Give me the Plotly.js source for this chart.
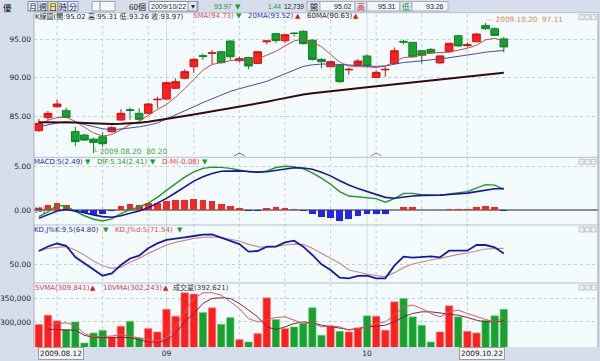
<!DOCTYPE html>
<html><head><meta charset="utf-8">
<script src="https://cdn.plot.ly/plotly-3.0.1.min.js"></script>
<style>html,body{margin:0;padding:0;background:#d6deec;}#chart{width:600px;height:361px;}</style>
</head><body><div id="chart"></div>
<script>
// ---------- data ----------
const dates = ["2009-08-12","2009-08-13","2009-08-14","2009-08-17","2009-08-18","2009-08-19","2009-08-20","2009-08-21","2009-08-24","2009-08-25","2009-08-26","2009-08-27","2009-08-28","2009-08-31",
"2009-09-01","2009-09-02","2009-09-03","2009-09-04","2009-09-07","2009-09-08","2009-09-09","2009-09-10","2009-09-11","2009-09-14","2009-09-15","2009-09-16","2009-09-17","2009-09-18","2009-09-21","2009-09-22","2009-09-23","2009-09-24","2009-09-25","2009-09-28","2009-09-29","2009-09-30",
"2009-10-01","2009-10-02","2009-10-05","2009-10-06","2009-10-07","2009-10-08","2009-10-09","2009-10-12","2009-10-13","2009-10-14","2009-10-15","2009-10-16","2009-10-19","2009-10-20","2009-10-21","2009-10-22"];
const openP  = [83.1,84.8,86.2,85.7,82.97,82.53,82.0,82.3,82.97,84.48,85.8,85.35,85.35,87.12,87.2,88.6,89.9,91.4,92.84,93.15,93.35,94.74,92.2,92.6,91.84,94.65,95.7,94.78,95.78,96.0,94.85,92.36,91.4,91.6,91.0,91.6,92.8,90.0,91.0,91.84,94.7,94.57,93.48,93.66,91.9,93.35,95.43,94.15,94.65,96.77,96.34,95.02];
const highP  = [84.6,85.65,87.1,86.1,83.6,82.66,82.2,82.9,83.7,85.87,86.1,86.0,86.73,87.5,89.46,89.9,91.06,92.5,93.1,93.6,93.4,94.8,92.7,92.7,93.4,94.85,95.8,95.6,95.85,96.1,95.0,92.5,92.2,91.7,91.3,92.4,93.0,90.9,91.4,93.9,94.9,94.6,93.6,93.8,92.9,94.5,95.5,94.6,95.8,97.11,96.5,95.31];
const lowP   = [82.95,84.5,86.1,84.7,81.1,81.75,80.2,81.0,82.84,84.4,84.5,84.4,85.26,86.0,87.08,88.5,89.76,90.6,92.3,91.7,91.8,92.3,92.0,91.1,91.8,94.3,94.5,94.5,95.3,94.3,92.2,91.2,91.3,89.3,90.35,91.5,91.3,89.9,90.1,91.8,94.3,92.6,91.8,93.1,91.8,93.3,94.0,93.9,94.6,96.2,95.4,93.26];
const closeP = [84.05,85.35,86.56,84.83,81.67,81.88,81.58,81.4,83.48,85.35,85.75,84.57,86.56,87.17,89.33,89.46,90.76,92.36,92.75,93.2,91.93,92.7,92.45,91.5,93.35,94.75,94.8,95.56,95.72,94.4,92.36,92.06,92.06,89.46,91.06,92.14,91.5,90.67,91.06,93.48,94.6,92.7,92.9,93.2,92.8,94.44,94.1,94.25,95.65,96.34,95.48,93.97];
const ma5  = [83.8,84.45,84.8,84.85,84.3,83.5,82.8,82.4,82.6,83.2,83.9,84.3,85.1,85.85,86.5,87.45,88.55,89.75,90.95,91.7,92.0,92.2,92.3,92.2,92.4,92.85,93.4,94.1,94.75,95.0,94.6,94.0,93.0,92.0,91.5,91.4,91.4,91.3,91.5,92.0,92.6,92.7,92.9,93.2,93.25,93.3,93.55,93.8,94.2,94.9,95.1,94.73];
const ma20 = [83.6,83.85,84.1,84.25,84.15,83.9,83.6,83.35,83.2,83.3,83.45,83.6,83.8,84.1,84.6,85.1,85.6,86.2,86.75,87.25,87.75,88.2,88.55,88.85,89.1,89.5,90.0,90.5,91.05,91.45,91.65,91.75,91.75,91.7,91.6,91.55,91.5,91.45,91.5,91.75,91.95,92.05,92.2,92.3,92.4,92.55,92.75,92.9,93.1,93.3,93.45,93.52];
const ma60 = [84.2,84.2,84.2,84.2,84.15,84.1,84.05,84.0,83.97,84.0,84.05,84.12,84.25,84.42,84.6,84.8,85.0,85.2,85.4,85.6,85.8,86.0,86.2,86.4,86.6,86.85,87.1,87.35,87.6,87.8,87.95,88.1,88.25,88.38,88.5,88.62,88.75,88.88,89.0,89.13,89.27,89.4,89.53,89.66,89.78,89.9,90.02,90.14,90.26,90.39,90.51,90.63];
const difLine  = [-0.7,-0.15,0.6,0.5,-0.1,-0.6,-1.0,-1.2,-0.95,-0.35,0.1,0.4,0.85,1.5,2.3,3.05,3.8,4.4,4.8,4.95,4.92,4.8,4.6,4.42,4.35,4.5,4.9,5.05,5.0,4.75,4.3,3.7,3.0,2.15,1.65,1.55,1.5,1.35,0.95,1.35,1.95,1.95,1.8,1.75,1.72,1.9,2.05,2.15,2.55,2.95,2.9,2.41];
const macdLine = [-0.9,-0.5,-0.05,0.12,-0.05,-0.25,-0.5,-0.7,-0.78,-0.6,-0.32,-0.06,0.3,0.8,1.38,2.02,2.7,3.35,3.85,4.22,4.48,4.52,4.52,4.45,4.38,4.42,4.6,4.78,4.88,4.85,4.7,4.35,3.95,3.4,2.9,2.5,2.15,1.85,1.5,1.4,1.55,1.65,1.72,1.72,1.75,1.82,1.9,1.98,2.15,2.35,2.48,2.49];
const oscBar   = [0.25,0.6,0.9,0.6,-0.08,-0.28,-0.5,-0.42,-0.1,0.5,0.7,0.62,0.8,0.88,1.05,1.18,1.25,1.3,1.25,1.08,0.7,0.55,0.32,-0.08,-0.05,0.3,0.35,0.33,0.22,-0.05,-0.35,-0.7,-0.9,-1.18,-0.98,-0.65,-0.42,-0.45,-0.42,0.0,0.42,0.35,0.06,0.05,0.0,0.15,0.15,0.17,0.38,0.52,0.42,-0.08];
const kLine = [68,74,78,75,60,51.6,44,35.1,38.2,49.3,58,61.8,71.6,78.2,82.7,84,86.2,88,89.8,90.2,86.2,81.3,77.3,67.1,68,73.8,73.8,79.6,81.8,73.8,62.7,50.2,42.7,32.4,31.6,34.7,35.1,31.6,31.6,48.4,60.4,59.1,59.6,60.9,59.6,68.4,68.4,68.4,76,76,72.9,64.8];
const dLine = [68,71.6,72.9,73.8,69.3,62.7,54.7,48.4,44.9,46.2,52.9,58.2,64.9,70.7,76,79.6,82.7,84.9,86.2,86.7,85.8,83.6,81.3,76.9,73.8,72.9,73.8,76,77.3,76.9,71.6,64.9,58.2,51.6,42.7,39.6,37.3,35.1,33.8,39.1,45.8,50.7,53.8,56,58.2,60.9,63.6,65.3,68,70.7,71.2,71.54];
const volume = [294400,314300,302200,283700,300000,255200,276600,282300,268000,290800,301500,265900,285800,278700,327100,312200,362000,359200,320000,329900,295100,309300,262300,257300,275100,351300,305100,285800,289400,296500,330000,271600,291500,280100,278700,287300,312900,312200,282300,342800,349900,310800,292900,257300,278700,334300,310800,280100,276600,303600,312900,327100];
const vma5  = [null,289400,296500,298000,293000,275000,268000,269400,270000,273000,269400,264500,261000,258800,266600,289400,321400,350000,362000,362000,357000,342800,328500,307000,300000,305000,309300,310800,303600,296500,298000,289400,291500,289400,282300,285800,289400,296500,300000,314300,332100,335700,328500,317900,310800,321400,325000,317900,310800,305100,300000,309841];
const vma10 = [null,284400,284000,284000,282300,271600,266600,266600,266600,266600,266600,262300,257300,256600,260900,275100,300000,317800,339200,349900,351300,349900,339200,325000,310800,289400,283700,289400,296500,300000,298000,293000,289400,285800,283700,285800,289400,290800,293000,300000,310800,317900,321400,321400,319300,317900,314300,309300,303600,300000,300000,302243];
const eventIdx = [22, 37];
const eventColors = ["#6272a4", "#d27a7a"];
// text labels shown in the original
const priceTicks = [85, 90, 95];
const macdTicks = [0, 5];
const kdTicks = [50];
const volTicks = [300000, 350000];
const volLegend = ["5VMA(309,841)", "10VMA(302,243)", "成交量(392,621)"];
const quoteChange = "1.44";
const quoteVolume = "12,739";
const barCount = "60";

// ---------- helpers ----------
const FONT = "DejaVu Sans, Noto Sans CJK TC, sans-serif";
const NARROW = "Liberation Sans, Arial, sans-serif";
const CJK = "Noto Sans CJK TC, DejaVu Sans, sans-serif";
const N = dates.length;
const xs = dates.map((d, i) => i);
const X = px => (px - 34) / 564;
const Y = py => (347 - py) / 335;
const f2 = v => v.toFixed(2);
const dot = d => d.replace(/-/g, ".");
const UP = "#ff1f1f", UPL = "#d41010", DN = "#17a22f", DNL = "#0c8420";
const isUp = closeP.map((c, i) => c >= openP[i]);

const fridays = xs.filter(i => new Date(dates[i] + "T00:00:00Z").getUTCDay() === 5);
const monthStarts = xs.filter(i => i > 0 && dates[i].slice(5, 7) !== dates[i - 1].slice(5, 7));

// ---------- traces ----------
const traces = [
  {type: "candlestick", x: xs, open: openP, high: highP, low: lowP, close: closeP, xaxis: "x", yaxis: "y",
   increasing: {line: {color: UPL, width: 1}, fillcolor: UP}, decreasing: {line: {color: DNL, width: 1}, fillcolor: DN},
   whiskerwidth: 0, hoverinfo: "skip"},
  {type: "scatter", mode: "lines", x: xs, y: ma5, yaxis: "y", line: {color: "#c84a4a", width: 1}},
  {type: "scatter", mode: "lines", x: xs, y: ma20, yaxis: "y", line: {color: "#4a4aaa", width: 1}},
  {type: "scatter", mode: "lines", x: xs, y: ma60, yaxis: "y", line: {color: "#3a0808", width: 2}},
  {type: "bar", x: xs, y: oscBar, yaxis: "y2", width: 0.74, marker: {color: oscBar.map(v => v >= 0 ? "#f02828" : "#2424e8")}},
  {type: "scatter", mode: "lines", x: xs, y: difLine, yaxis: "y2", line: {color: "#1f9a1f", width: 1.4}},
  {type: "scatter", mode: "lines", x: xs, y: macdLine, yaxis: "y2", line: {color: "#1616a2", width: 1.6}},
  {type: "scatter", mode: "lines", x: xs, y: dLine, yaxis: "y3", line: {color: "#cf8d82", width: 1.2}},
  {type: "scatter", mode: "lines", x: xs, y: kLine, yaxis: "y3", line: {color: "#1a1aa8", width: 1.8}},
  {type: "bar", x: xs, y: volume, yaxis: "y4", width: 0.82,
   marker: {color: isUp.map(u => u ? UP : DN), line: {color: isUp.map(u => u ? "#ff8a8a" : "#7fd08f"), width: 0.6}}},
  {type: "scatter", mode: "lines", x: xs, y: vma10, yaxis: "y4", line: {color: "#7a2a3a", width: 1}},
  {type: "scatter", mode: "lines", x: xs, y: vma5, yaxis: "y4", line: {color: "#d8586a", width: 1}}
];
traces.forEach(t => { if (!t.hoverinfo) t.hoverinfo = "skip"; if (!t.xaxis) t.xaxis = "x"; });

// ---------- shapes ----------
const shapes = [];
const D = {price: [0.5663, 0.9979], macd: [0.3642, 0.5663], kd: [0.191, 0.3642], vol: [0, 0.191]};
fridays.forEach(i => shapes.push({type: "line", xref: "x", yref: "paper", x0: i, x1: i, y0: 0, y1: D.price[1],
  line: {color: "#c3ccd8", width: 1, dash: "dot"}, layer: "below"}));
monthStarts.forEach(i => shapes.push({type: "line", xref: "x", yref: "paper", x0: i, x1: i, y0: 0, y1: D.price[1],
  line: {color: "#d3dae4", width: 1}, layer: "below"}));
// panel frame and separators
[D.price[1], D.price[0], D.macd[0], D.kd[0]].forEach(y => shapes.push({type: "line", xref: "paper", yref: "paper",
  x0: 0, x1: 1, y0: y, y1: y, line: {color: "#b6bfcc", width: 1}}));
shapes.push({type: "line", xref: "paper", yref: "paper", x0: 1, x1: 1, y0: 0, y1: D.price[1], line: {color: "#9aa3b4", width: 1}});
shapes.push({type: "line", xref: "paper", yref: "paper", x0: 0, x1: 0, y0: 0, y1: D.price[1], line: {color: "#aab3c4", width: 1}});
// panel corner icons
[12.7, 157.3, 225, 283].forEach(top => {
  for (let k = 0; k < 3; k++) {
    shapes.push({type: "rect", xref: "paper", yref: "paper", x0: X(579 + k * 6), x1: X(584 + k * 6), y0: Y(top + 7), y1: Y(top + 2),
      fillcolor: "#eceef2", line: {color: "#b4b8c0", width: 0.8}});
  }
});
// event carets
eventIdx.forEach((i, k) => shapes.push({type: "path", xref: "x", yref: "paper",
  path: `M ${i - 0.6},${Y(156)} L ${i},${Y(153)} L ${i + 0.6},${Y(156)}`, line: {color: eventColors[k], width: 1}}));
// toolbar cells
const cell = (x0, x1, fill, line) => shapes.push({type: "rect", xref: "paper", yref: "paper", x0: X(x0), x1: X(x1),
  y0: Y(11), y1: Y(1.5), fillcolor: fill, line: {color: line, width: 1}});
["月", "週", "日", "時", "分"].forEach((c, k) => cell(28 + k * 10, 38 + k * 10, c === "日" ? "#f3e68a" : "#e7edf7", "#7d8db0"));
cell(92, 100, "#f7f8fb", "#9aa3b4");
cell(100, 115, "#f7f8fb", "#9aa3b4");
cell(149, 198, "#ffffff", "#7f8fa8");
cell(188, 197, "#e3e7ee", "#8b96aa");
cell(307, 320, "#dfe6f1", "#a6afc0");
cell(320, 355, "#f4f6fa", "#a6afc0");
cell(355, 367, "#dfe6f1", "#a6afc0");
cell(367, 400, "#f4f6fa", "#a6afc0");
cell(400, 412, "#dfe6f1", "#a6afc0");
cell(412, 448, "#f4f6fa", "#a6afc0");

// ---------- annotations ----------
const ann = [];
const txt = (t, xpx, ypx, color, size, xanchor, fam) => ann.push({xref: "paper", yref: "paper", x: X(xpx), y: Y(ypx), text: t,
  showarrow: false, xanchor: xanchor || "left", yanchor: "middle", font: {size: size || 7, color: color, family: fam || FONT}, borderpad: 0});
const last = N - 1;
// toolbar
txt("優", 13, 6.5, "#222", 8.5, "right", CJK);
["月", "週", "日", "時", "分"].forEach((c, k) => txt(c, 33 + k * 10, 6.5, "#1a1a4a", 8, "center", CJK));
txt(barCount + "個", 147, 6.5, "#222", 8, "right", CJK);
txt(dates[last].replace(/-/g, "/"), 150, 6.5, "#222", 7, "left", NARROW);
txt("▾", 192.5, 6.5, "#333", 8, "center");
txt(f2(closeP[last]), 233, 6.5, "#119a2c", 7, "right", NARROW);
txt("▼", 234, 6.5, "#119a2c", 7);
txt(quoteChange, 282, 6.5, "#119a2c", 6.6, "right", NARROW);
txt(quoteVolume, 305, 6.5, "#222", 6.5, "right", NARROW);
txt("開", 313.5, 6.5, "#222", 8, "center", CJK);
txt(f2(openP[last]), 353, 6.5, "#222", 7, "right", NARROW);
txt("高", 361, 6.5, "#e01818", 8, "center", CJK);
txt(f2(highP[last]), 397, 6.5, "#222", 7, "right", NARROW);
txt("低", 406, 6.5, "#119a2c", 8, "center", CJK);
txt(f2(lowP[last]), 445, 6.5, "#222", 7, "right", NARROW);
// price legend
txt(`K線圖(開:${f2(openP[last])} 高:${f2(highP[last])} 低:${f2(lowP[last])} 收:${f2(closeP[last])})`, 34, 16.5, "#2a2a2a", 7, "left", FONT);
txt(`5MA(${f2(ma5[last])})`, 192, 16.5, "#e2485a", 7);
txt("▼", 235, 16.5, "#14a02c", 7);
txt(`20MA(${f2(ma20[last])})`, 247, 16.5, "#2f2fb0", 7);
txt("▲", 294, 16.5, "#e01818", 7);
txt(`60MA(${f2(ma60[last])})`, 306, 16.5, "#3a1a1a", 7);
txt("▲", 352, 16.5, "#e01818", 7);
// macd legend
txt(`MACD:5(${f2(macdLine[last])})`, 33, 162, "#2a2aa8", 7);
txt("▼", 84, 162, "#14a02c", 7);
txt(`DIF:5,34(${f2(difLine[last])})`, 96, 162, "#1f9a1f", 7);
txt("▼", 149, 162, "#14a02c", 7);
txt(`D-M(${f2(oscBar[last])})`, 161, 162, "#e03a3a", 7);
txt("▼", 201, 162, "#14a02c", 7);
txt("[0]", 34, 210, "#444", 7);
// kd legend
txt(`KD,J%K:9,5(${f2(kLine[last])})`, 33, 230, "#2a2aa8", 7);
txt("▼", 102, 230, "#14a02c", 7);
txt(`KD,J%d:5(${f2(dLine[last])})`, 114, 230, "#e04a4a", 7);
txt("▼", 176, 230, "#14a02c", 7);
// volume legend
txt(volLegend[0], 34, 287.5, "#e03a4a", 7);
txt("▲", 89, 287.5, "#e01818", 7);
txt(volLegend[1], 102, 287.5, "#d0384e", 7);
txt("▲", 162, 287.5, "#e01818", 7);
txt(volLegend[2], 172, 287.5, "#333", 7, "left", FONT);
// low / high markers
const lowIdx = lowP.indexOf(Math.min(...lowP));
const highIdx = highP.indexOf(Math.max(...highP));
ann.push({xref: "x", yref: "y", x: lowIdx, y: lowP[lowIdx], text: `└ ${dot(dates[lowIdx])}  ${f2(lowP[lowIdx])}`, showarrow: false,
  xanchor: "left", yanchor: "middle", xshift: -3, yshift: 1, font: {size: 7.3, color: "#45a845", family: FONT}});
ann.push({xref: "x", yref: "y", x: highIdx, y: highP[highIdx], text: `— ${dot(dates[highIdx])}  ${f2(highP[highIdx])}`, showarrow: false,
  xanchor: "left", yanchor: "middle", xshift: -2, yshift: 3, font: {size: 7.3, color: "#e0884a", family: FONT}});
// boxed date labels on the time axis
ann.push({xref: "x", yref: "paper", x: 0, y: Y(353.5), text: dot(dates[0]), showarrow: false, xanchor: "left", yanchor: "middle",
  xshift: -1, bgcolor: "#f4f4f4", bordercolor: "#9c9c9c", borderwidth: 1, borderpad: 1, font: {size: 7.3, color: "#222", family: FONT}});
ann.push({xref: "x", yref: "paper", x: last, y: Y(353.5), text: dot(dates[last]), showarrow: false, xanchor: "right", yanchor: "middle",
  xshift: 1, bgcolor: "#f4f4f4", bordercolor: "#9c9c9c", borderwidth: 1, borderpad: 1, font: {size: 7.3, color: "#222", family: FONT}});

// ---------- layout ----------
const yBase = {anchor: "x", ticks: "", showline: false, zeroline: false, showgrid: true, gridcolor: "#c5ced9", griddash: "dot",
  gridwidth: 1, tickfont: {size: 7.5, color: "#1e1e1e", family: FONT}, fixedrange: true, ticklabelstandoff: 2};
const layout = {
  width: 600, height: 361, margin: {l: 34, r: 2, t: 12, b: 14},
  paper_bgcolor: "#d6deec", plot_bgcolor: "#f4fbfd", showlegend: false, boxgap: 0.16, boxgroupgap: 0, bargap: 0,
  font: {family: FONT, size: 7.5, color: "#1e1e1e"},
  xaxis: {domain: [0, 1], range: [-0.53, 61.33], anchor: "y4", rangeslider: {visible: false}, showgrid: false, zeroline: false,
    ticks: "", tickvals: monthStarts, ticktext: monthStarts.map(i => dates[i].slice(5, 7)),
    tickfont: {size: 7.5, color: "#1e1e1e", family: FONT}, fixedrange: true},
  yaxis: Object.assign({}, yBase, {domain: D.price, range: [79.64, 98.42], tickvals: priceTicks, ticktext: priceTicks.map(f2)}),
  yaxis2: Object.assign({}, yBase, {domain: D.macd, range: [-1.655, 6.07], tickvals: macdTicks, ticktext: macdTicks.map(f2),
    zeroline: true, zerolinecolor: "#8c8c8c", zerolinewidth: 2}),
  yaxis3: Object.assign({}, yBase, {domain: D.kd, range: [25.3, 102.7], tickvals: kdTicks, ticktext: kdTicks.map(f2)}),
  yaxis4: Object.assign({}, yBase, {domain: D.vol, range: [246600, 382700], tickvals: volTicks, ticktext: volTicks.map(v => v.toLocaleString("en-US"))}),
  shapes: shapes, annotations: ann
};
Plotly.newPlot("chart", traces, layout, {staticPlot: true, displayModeBar: false});
</script>
</body></html>
